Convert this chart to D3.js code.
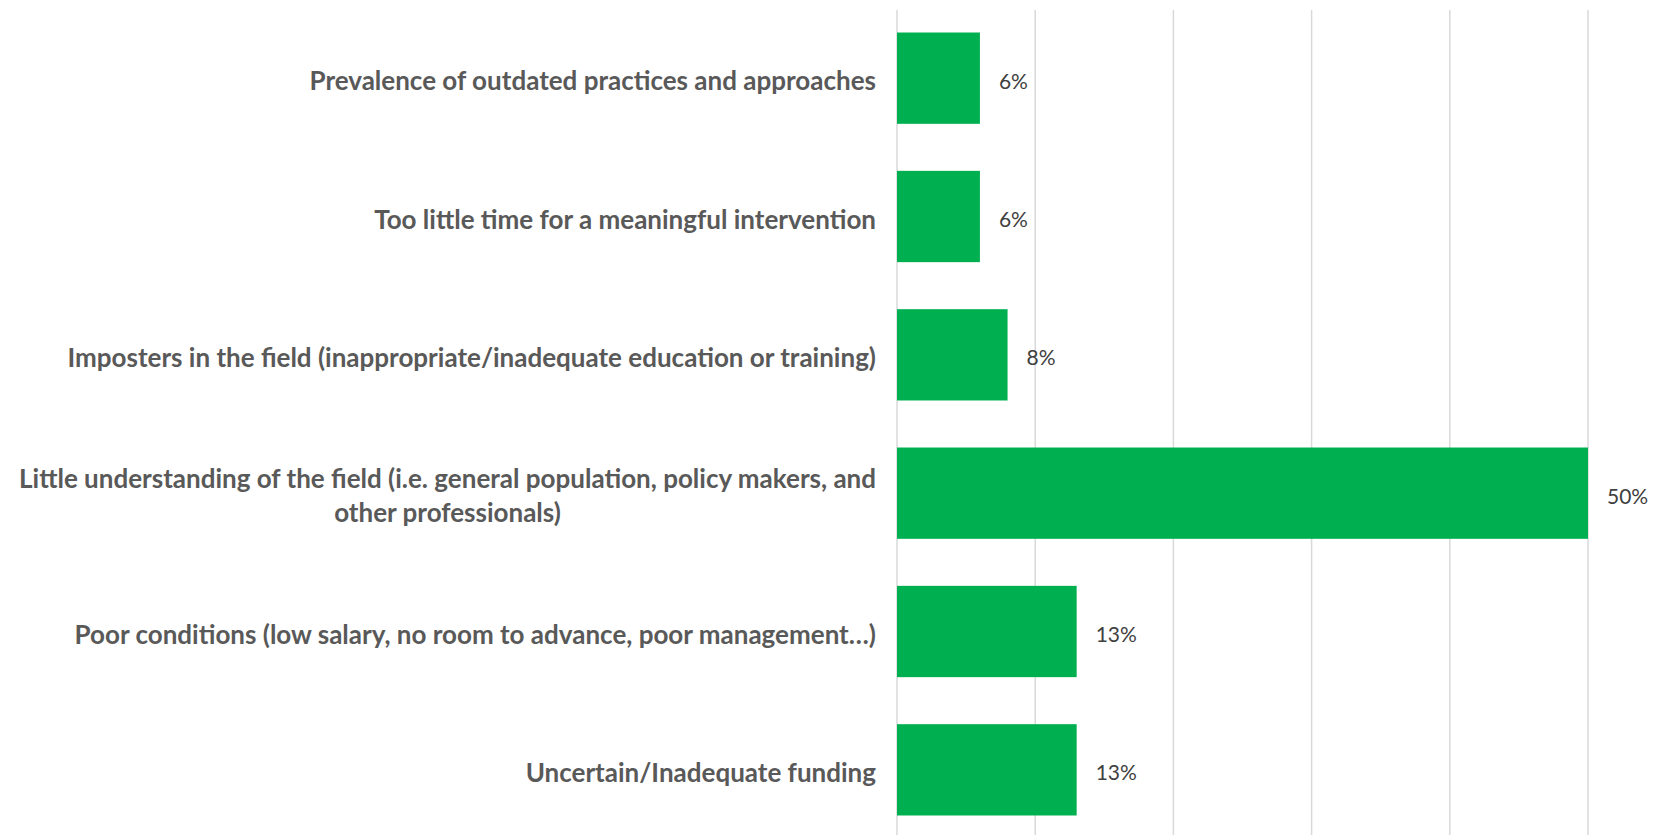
<!DOCTYPE html>
<html>
<head>
<meta charset="utf-8">
<script src="https://cdn.jsdelivr.net/npm/d3@7"></script>
<style>
  html, body { margin: 0; padding: 0; background: #fff; }
</style>
</head>
<body>
<div id="chart"></div>
<script>
// chart data, top to bottom
const categories = [
  'Prevalence of outdated practices and approaches',
  'Too little time for a meaningful intervention',
  'Imposters in the field (inappropriate/inadequate education or training)',
  'Little understanding of the field (i.e. general population, policy makers, and other professionals)',
  'Poor conditions (low salary, no room to advance, poor management…)',
  'Uncertain/Inadequate funding'
]
const values = [6, 6, 8, 50, 13, 13]
const gridTicks = [0, 10, 20, 30, 40, 50]

const width = 1665
const height = 835
const left = 897
const right = 1588

const svg = d3.select('#chart')
  .append('svg')
  .attr('width', width)
  .attr('height', height)

const xScale = d3.scaleLinear()
  .domain([0, 50])
  .range([left, right])

const yScale = d3.scaleBand()
  .domain(categories)
  .range([9, 839])
  .paddingInner(0.34)
  .paddingOuter(0.17)

// vertical gridlines
svg.append('g')
  .selectAll('line')
  .data(gridTicks)
  .enter()
  .append('line')
  .attr('x1', d => xScale(d))
  .attr('x2', d => xScale(d))
  .attr('y1', 10)
  .attr('y2', 835)
  .attr('stroke', '#d9d9d9')
  .attr('stroke-width', 1.5)

// bars
svg.append('g')
  .selectAll('rect')
  .data(values)
  .enter()
  .append('rect')
  .attr('x', xScale(0))
  .attr('y', (d, i) => yScale(categories[i]))
  .attr('width', d => xScale(d) - xScale(0))
  .attr('height', yScale.bandwidth())
  .attr('fill', '#00b050')

// value labels
svg.append('g')
  .selectAll('text')
  .data(values)
  .enter()
  .append('text')
  .attr('x', d => xScale(d) + 19)
  .attr('y', (d, i) => yScale(categories[i]) + yScale.bandwidth() / 2 + 3)
  .attr('dy', '0.35em')
  .style('font-family', 'Lato, sans-serif')
  .style('font-size', '21px')
  .attr('fill', '#404040')
  .text(d => d + '%')

// category labels, wrapped and centred inside a right-aligned block
const labelRight = 876
const maxLabelWidth = 870
const lineHeight = 34

const labels = svg.append('g')
  .selectAll('text')
  .data(categories)
  .enter()
  .append('text')
  .style('font-family', 'Lato, sans-serif')
  .style('font-size', '26px')
  .style('font-weight', 'bold')
  .attr('fill', '#595959')
  .attr('text-anchor', 'middle')

labels.each(function (d) {
  const text = d3.select(this)
  const words = d.split(' ')
  const lines = []
  let line = []
  const probe = text.append('tspan')
  words.forEach(w => {
    probe.text(line.concat(w).join(' '))
    if (line.length && probe.node().getComputedTextLength() > maxLabelWidth) {
      lines.push(line.join(' '))
      line = [w]
    } else {
      line.push(w)
    }
  })
  lines.push(line.join(' '))
  let blockWidth = 0
  lines.forEach(l => {
    probe.text(l)
    blockWidth = Math.max(blockWidth, probe.node().getComputedTextLength())
  })
  probe.remove()

  const cx = labelRight - blockWidth / 2
  const cy = yScale(d) + yScale.bandwidth() / 2 + 3 - (lines.length - 1) * lineHeight / 2
  lines.forEach((l, i) => {
    text.append('tspan')
      .attr('x', cx)
      .attr('y', cy + i * lineHeight)
      .attr('dy', '0.35em')
      .text(l)
  })
})
</script>
</body>
</html>
